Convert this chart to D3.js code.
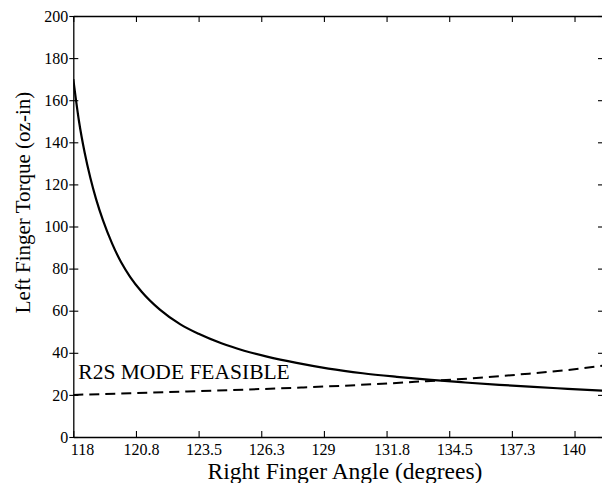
<!DOCTYPE html>
<html><head><meta charset="utf-8">
<script src="https://cdn.jsdelivr.net/npm/d3@7"></script>
<style>
body{margin:0;background:#fff}
svg{display:block}
</style>
</head><body><svg id="c" width="602" height="483"></svg>
<script>
// Data
const angleSolid  = [118.0,118.25,118.5,118.75,119.0,119.3,119.7,120.1,120.5,121.0,121.8,122.7,123.5,124.5,125.5,126.5,127.8,129.2,130.7,132.2,133.7,135.2,136.7,138.2,139.7,141.25];
const torqueSolid = [170,150,135,123,113,103,92,83,76,69,60.5,53.5,49,44.5,41,38.2,35.2,32.5,30.3,28.6,27.1,25.9,24.8,23.8,22.9,22.0];
const angleDashed  = [118,120.5,123,125.5,128,130.5,133,135.5,138,140,141.25];
const torqueDashed = [20.0,20.8,21.6,22.5,23.5,24.7,26.2,27.9,30.1,32.2,33.9];
const xTickValues = [118,120.75,123.5,126.25,129,131.75,134.5,137.25,140];
const xTickLabels = ["118","120.8","123.5","126.3","129","131.8","134.5","137.3","140"];
const yTickValues = [0,20,40,60,80,100,120,140,160,180,200];
const xDomain = [118,141.25];
const yDomain = [0,200];
const annotationText = "R2S MODE FEASIBLE";
const annotationAngle = 118.22;
const annotationTorque = 27.4;
const xTitle = "Right Finger Angle (degrees)";
const yTitle = "Left Finger Torque (oz-in)";

const FONT = "'Liberation Serif', 'Times New Roman', Times, serif";
const svg = d3.select("#c");
const L = 73.3, R = 603, T = 16, B = 437;
const x = d3.scaleLinear().domain(xDomain).range([L, R]);
const y = d3.scaleLinear().domain(yDomain).range([B, T]);

svg.append("defs").append("clipPath").attr("id","clip")
  .append("rect").attr("x",L).attr("y",T).attr("width",R-L).attr("height",B-T);

function styleAxis(g){
  g.attr("font-family", FONT).attr("font-size", 16);
  g.select(".domain").attr("stroke","#000").attr("stroke-width",1.3);
  g.selectAll(".tick line").attr("stroke","#000").attr("stroke-width",1.1);
  g.selectAll("text").style("font-family", FONT).style("font-size","16px").attr("fill","#000");
}

// bottom axis
const gx = svg.append("g").attr("transform",`translate(0,${B})`)
  .call(d3.axisBottom(x).tickValues(xTickValues)
    .tickFormat((d,i)=>xTickLabels[i]).tickSizeInner(-6).tickSizeOuter(0).tickPadding(7));
styleAxis(gx);
gx.selectAll(".tick text").attr("text-anchor","start").attr("x",(d,i)=> i===0 ? -3 : -13);

// top axis
const gt = svg.append("g").attr("transform",`translate(0,${T})`)
  .call(d3.axisTop(x).tickValues(xTickValues).tickFormat("").tickSizeInner(-6).tickSizeOuter(0));
styleAxis(gt);

// left axis
const gy = svg.append("g").attr("transform",`translate(${L},0)`)
  .call(d3.axisLeft(y).tickValues(yTickValues).tickSizeInner(-5).tickSizeOuter(0).tickPadding(5));
styleAxis(gy);
gy.selectAll(".tick line").attr("x1",-4).attr("x2",5);
gy.selectAll(".tick text").attr("x",-5);

// right axis
const gr = svg.append("g").attr("transform",`translate(${R},0)`)
  .call(d3.axisRight(y).tickValues(yTickValues).tickFormat("").tickSizeInner(-5).tickSizeOuter(0));
styleAxis(gr);

// curves
const solid = angleSolid.map((a,i)=>[a,torqueSolid[i]]);
const dashed = angleDashed.map((a,i)=>[a,torqueDashed[i]]);
const line = d3.line().x(d=>x(d[0])).y(d=>y(d[1])).curve(d3.curveMonotoneX);

const plot = svg.append("g").attr("clip-path","url(#clip)");
plot.append("path").datum(dashed).attr("d",line)
  .attr("fill","none").attr("stroke","#000").attr("stroke-width",2)
  .attr("stroke-dasharray","10,6");
plot.append("path").datum(solid).attr("d",line)
  .attr("fill","none").attr("stroke","#000").attr("stroke-width",2.2);

// annotation
svg.append("text").attr("x",x(annotationAngle)).attr("y",y(annotationTorque))
  .style("font-family",FONT).style("font-size","21.5px").attr("fill","#000").text(annotationText);

// axis titles
svg.append("text").attr("x",345).attr("y",479).attr("text-anchor","middle")
  .style("font-family",FONT).style("font-size","23.5px").attr("fill","#000").text(xTitle);
svg.append("text").attr("transform","translate(29.5,202.5) rotate(-90)")
  .attr("text-anchor","middle").style("font-family",FONT).style("font-size","21px")
  .attr("fill","#000").text(yTitle);
</script>
</body></html>
